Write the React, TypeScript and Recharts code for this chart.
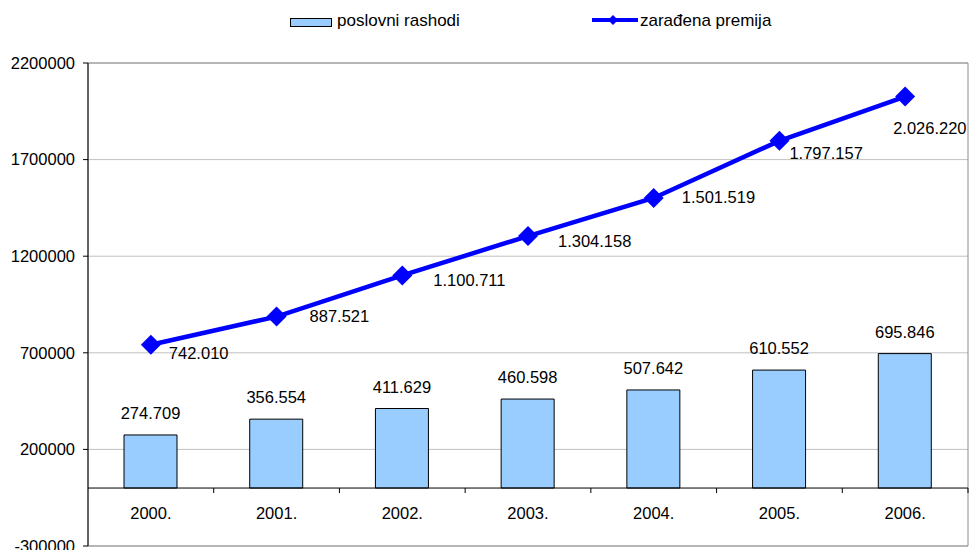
import React from "react";
import {
  ComposedChart,
  Bar,
  Line,
  XAxis,
  YAxis,
  CartesianGrid,
  ReferenceLine,
  ReferenceArea,
  LabelList,
  Legend,
} from "recharts";

const years = ["2000.", "2001.", "2002.", "2003.", "2004.", "2005.", "2006."];
const poslovniRashodi = [274709, 356554, 411629, 460598, 507642, 610552, 695846];
const zaradjenaPremija = [742010, 887521, 1100711, 1304158, 1501519, 1797157, 2026220];
const yTicks = [-300000, 200000, 700000, 1200000, 1700000, 2200000];

// label nudges for the line values (px), as placed in the original sheet
const premijaLabelShift = [
  [18, 8],
  [33, -1],
  [31, 5],
  [30, 5],
  [28, -1],
  [10, 12],
  [-12, 31],
];

const data = years.map((year, i) => ({
  year,
  rashodi: poslovniRashodi[i],
  premija: zaradjenaPremija[i],
}));

const W = 969;
const H = 550;
const xAxisHeight = 4;
const margin = { top: 63, right: 1, bottom: 0, left: 0 };
const yAxisWidth = 88;
const yMin = -300000;
const yMax = 2200000;
const plotHeight = H - margin.top - margin.bottom - xAxisHeight;
const plotWidth = W - margin.left - margin.right - yAxisWidth;
const zeroY = margin.top + (plotHeight * yMax) / (yMax - yMin);
const band = plotWidth / years.length;

const FONT = '"Liberation Sans", Arial, sans-serif';
const BLUE = "#0000FF";
const BAR_FILL = "#99CCFF";

const fmt = (n: number) => String(n).replace(/\B(?=(\d{3})+(?!\d))/g, ".");

function CategoryTick(props: any) {
  const { x, payload } = props;
  const index = payload?.index ?? props.index ?? years.indexOf(payload?.value);
  const last = index === years.length - 1;
  return (
    <g>
      {index > 0 && (
        <line x1={x - band / 2} x2={x - band / 2} y1={zeroY} y2={zeroY + 5} stroke="#000" />
      )}
      {last && <line x1={x + band / 2} x2={x + band / 2} y1={zeroY} y2={zeroY + 5} stroke="#000" />}
      <text
        x={x}
        y={zeroY + 25}
        textAnchor="middle"
        dominantBaseline="central"
        fontFamily={FONT}
        fontSize={16.5}
        fill="#000"
      >
        {payload.value}
      </text>
    </g>
  );
}

function Diamond(props: any) {
  const { cx, cy } = props;
  if (cx == null || cy == null) return null;
  const r = 10;
  return (
    <polygon
      points={`${cx},${cy - r} ${cx + r},${cy} ${cx},${cy + r} ${cx - r},${cy}`}
      fill={BLUE}
      stroke="none"
    />
  );
}

function PremijaLabel(props: any) {
  const { x, y, value, index } = props;
  const [dx, dy] = premijaLabelShift[index] || [10, 8];
  return (
    <text
      x={x + dx}
      y={y + dy}
      textAnchor="start"
      dominantBaseline="central"
      fontFamily={FONT}
      fontSize={16.5}
      fill="#000"
    >
      {fmt(value)}
    </text>
  );
}

function ChartLegend() {
  return (
    <div style={{ position: "relative", width: W, height: 40, fontFamily: FONT, fontSize: 17 }}>
      <div
        style={{
          position: "absolute",
          left: 290,
          top: 18,
          width: 40,
          height: 7,
          background: BAR_FILL,
          border: "1px solid #000",
        }}
      />
      <span style={{ position: "absolute", left: 337, top: 11, lineHeight: "20px" }}>poslovni rashodi</span>
      <svg style={{ position: "absolute", left: 591, top: 14 }} width={48} height={12}>
        <line x1={1} x2={47} y1={6} y2={6} stroke={BLUE} strokeWidth={4} />
        <polygon points="22,1 27,6 22,11 17,6" fill={BLUE} />
      </svg>
      <span style={{ position: "absolute", left: 640, top: 11, lineHeight: "20px" }}>zarađena premija</span>
    </div>
  );
}

export default function App() {
  return (
    <div style={{ position: "absolute", left: 0, top: 0, width: W, height: H, background: "#fff" }}>
      <ComposedChart width={W} height={H} data={data} margin={margin}>
        <CartesianGrid horizontal vertical={false} stroke="#c0c0c0" />
        <ReferenceArea y1={yMin} y2={yMax} fill="none" stroke="#8c8c8c" ifOverflow="visible" />
        <XAxis
          dataKey="year"
          height={xAxisHeight}
          axisLine={false}
          tickLine={false}
          interval={0}
          tick={(p: any) => <CategoryTick {...p} />}
        />
        <YAxis
          width={yAxisWidth}
          domain={[yMin, yMax]}
          ticks={yTicks}
          interval={0}
          allowDataOverflow
          axisLine={{ stroke: "#000" }}
          tickLine={{ stroke: "#000" }}
          tickSize={5}
          tickMargin={8}
          tick={{ fill: "#000", fontSize: 16.5, fontFamily: FONT }}
        />
        <ReferenceLine y={0} stroke="#000" />
        <Legend
          verticalAlign="middle"
          layout="horizontal"
          wrapperStyle={{ top: 0, left: 0, width: W }}
          content={<ChartLegend />}
        />
        <Bar
          dataKey="rashodi"
          name="poslovni rashodi"
          barSize={53}
          fill={BAR_FILL}
          stroke="#000"
          strokeWidth={1}
          isAnimationActive={false}
        >
          <LabelList
            dataKey="rashodi"
            position="top"
            offset={16}
            formatter={(v: any) => fmt(v)}
            fill="#000"
            fontSize={16.5}
            fontFamily={FONT}
          />
        </Bar>
        <Line
          dataKey="premija"
          name="zarađena premija"
          stroke={BLUE}
          strokeWidth={4.5}
          dot={<Diamond />}
          activeDot={false}
          isAnimationActive={false}
        >
          <LabelList dataKey="premija" content={<PremijaLabel />} />
        </Line>
      </ComposedChart>
    </div>
  );
}
